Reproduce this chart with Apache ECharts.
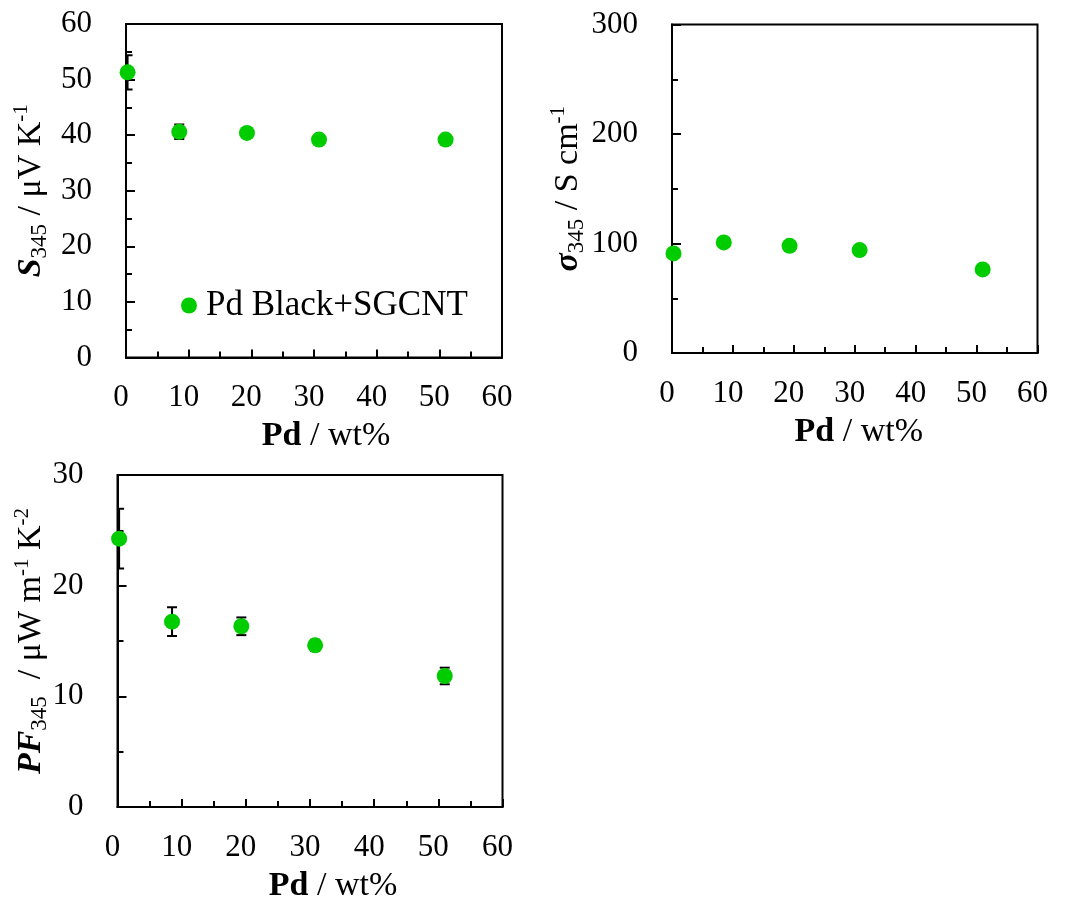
<!DOCTYPE html>
<html>
<head>
<meta charset="utf-8">
<script src="https://cdn.jsdelivr.net/npm/echarts@6/dist/echarts.min.js"></script>
<style>
  html, body { margin: 0; padding: 0; background: #fff; }
  #chart { width: 1065px; height: 899px; }
</style>
</head>
<body>
<div id="chart"></div>
<script>
// Pd loading of the Pd Black + SGCNT films (wt%)
const pdLoading = [0.25, 8.5, 19.3, 30.8, 51.0];

// Seebeck coefficient at 345 K (μV K-1) and its error
const seebeck = [51.3, 40.6, 40.4, 39.2, 39.2];
const seebeckErr = [3.1, 1.3, 0.5, 0.5, 0.5];

// Electrical conductivity at 345 K (S cm-1)
const conductivity = [90.9, 101.0, 97.9, 94.0, 76.3];

// Power factor at 345 K (μW m-1 K-2) and its error
const powerFactor = [24.25, 16.75, 16.33, 14.61, 11.84];
const powerFactorErr = [2.7, 1.3, 0.8, 0.5, 0.75];

// Axis tick values
const xTicks = { min: 0, max: 60, interval: 10 };
const seebeckTicks = { min: 0, max: 60, interval: 10 };
const conductivityTicks = { min: 0, max: 300, interval: 100 };
const powerFactorTicks = { min: 0, max: 30, interval: 10 };

const seriesName = 'Pd Black+SGCNT';
const FONT = 'Liberation Serif';
const GREEN = '#00cc00';

const chart = echarts.init(document.getElementById('chart'), null, { renderer: 'canvas' });

const grids = [
  { left: 126, top: 24, width: 376, height: 333.5 },
  { left: 672, top: 24.5, width: 365.5, height: 328.5 },
  { left: 117.5, top: 475, width: 385, height: 332 }
].map(g => Object.assign({
  show: true, borderColor: '#000', borderWidth: 2, backgroundColor: 'transparent',
  containLabel: false, outerBoundsMode: 'none'
}, g));

function xAxisFor(gridIndex, shift) {
  return {
    type: 'value', gridIndex,
    min: xTicks.min, max: xTicks.max, interval: xTicks.interval,
    axisLine: { show: true, onZero: false, lineStyle: { color: '#000', width: 2 } },
    axisTick: { show: true, inside: true, length: 8, lineStyle: { color: '#000', width: 2 } },
    minorTick: { show: true, splitNumber: 2, length: 6, lineStyle: { color: '#000', width: 2 } },
    splitLine: { show: false },
    axisLabel: {
      margin: 25, fontFamily: FONT, fontSize: 31, color: '#000', lineHeight: 31,
      padding: [0, 10, 0, 0]
    },
    name: '{b|Pd}{n| / wt%}',
    nameLocation: 'middle',
    nameGap: 62,
    nameMoveOverlap: false,
    nameTextStyle: {
      padding: [0, 0, 0, shift * 2],
      rich: {
        b: { fontFamily: FONT, fontSize: 34, fontWeight: 'bold', color: '#000', lineHeight: 34 },
        n: { fontFamily: FONT, fontSize: 34, color: '#000', lineHeight: 34 }
      }
    }
  };
}

function yAxisFor(gridIndex, ticks, name, gap) {
  return {
    type: 'value', gridIndex,
    min: ticks.min, max: ticks.max, interval: ticks.interval,
    axisLine: { show: true, onZero: false, lineStyle: { color: '#000', width: 2 } },
    axisTick: { show: true, inside: true, length: 9, lineStyle: { color: '#000', width: 2 } },
    minorTick: { show: true, splitNumber: 2, length: 6, lineStyle: { color: '#000', width: 2 } },
    splitLine: { show: false },
    axisLabel: { margin: 34, fontFamily: FONT, fontSize: 31, color: '#000' },
    name,
    nameLocation: 'middle',
    nameRotate: 90,
    nameGap: gap,
    nameMoveOverlap: false,
    nameTextStyle: {
      rich: {
        bi: { fontFamily: FONT, fontSize: 34, fontWeight: 'bold', fontStyle: 'italic', color: '#000', lineHeight: 40 },
        n: { fontFamily: FONT, fontSize: 34, color: '#000', lineHeight: 40 },
        sub: { fontFamily: FONT, fontSize: 23, color: '#000', lineHeight: 23, verticalAlign: 'bottom' },
        sup: { fontFamily: FONT, fontSize: 21, color: '#000', lineHeight: 21, verticalAlign: 'top' }
      }
    }
  };
}

// Vertical error bars drawn through the axes' own coordinate transform
function errorBars(gridIndex, values, errs) {
  return {
    type: 'custom',
    xAxisIndex: gridIndex, yAxisIndex: gridIndex,
    clip: true, silent: true, z: 1,
    encode: { x: 0, y: [1, 2] },
    data: pdLoading.map((x, i) => [x, values[i] - errs[i], values[i] + errs[i]]),
    renderItem(params, api) {
      const lo = api.coord([api.value(0), api.value(1)]);
      const hi = api.coord([api.value(0), api.value(2)]);
      const half = 5;
      const style = { stroke: '#000', lineWidth: 2 };
      return {
        type: 'group',
        children: [
          { type: 'line', shape: { x1: lo[0], y1: lo[1], x2: hi[0], y2: hi[1] }, style },
          { type: 'line', shape: { x1: lo[0] - half, y1: lo[1], x2: lo[0] + half, y2: lo[1] }, style },
          { type: 'line', shape: { x1: hi[0] - half, y1: hi[1], x2: hi[0] + half, y2: hi[1] }, style }
        ]
      };
    }
  };
}

function points(gridIndex, values) {
  return {
    name: seriesName,
    type: 'scatter',
    xAxisIndex: gridIndex, yAxisIndex: gridIndex,
    symbol: 'circle', symbolSize: 16, z: 3,
    itemStyle: { color: GREEN, opacity: 1 },
    emphasis: { disabled: true },
    data: pdLoading.map((x, i) => [x, values[i]])
  };
}

chart.setOption({
  animation: false,
  backgroundColor: '#fff',
  grid: grids,
  legend: {
    data: [{ name: seriesName, icon: 'circle' }],
    left: 181, top: 287,
    padding: 0,
    itemWidth: 16, itemHeight: 16,
    selectedMode: false,
    textStyle: { fontFamily: FONT, fontSize: 35, color: '#000', lineHeight: 37, padding: [0, 0, 0, 4] }
  },
  xAxis: [xAxisFor(0, 12), xAxisFor(1, 4), xAxisFor(2, 23)],
  yAxis: [
    yAxisFor(0, seebeckTicks, '{bi|S}{sub|345}{n| / μV K}{sup|-1}', 75),
    yAxisFor(1, conductivityTicks, '{bi|σ}{sub|345}{n| / S cm}{sup|-1}', 84),
    yAxisFor(2, powerFactorTicks, '{bi|PF}{sub|345}{n|  / μW m}{sup|-1}{n| K}{sup|-2}', 66)
  ],
  series: [
    errorBars(0, seebeck, seebeckErr),
    points(0, seebeck),
    points(1, conductivity),
    errorBars(2, powerFactor, powerFactorErr),
    points(2, powerFactor)
  ]
});
</script>
</body>
</html>
